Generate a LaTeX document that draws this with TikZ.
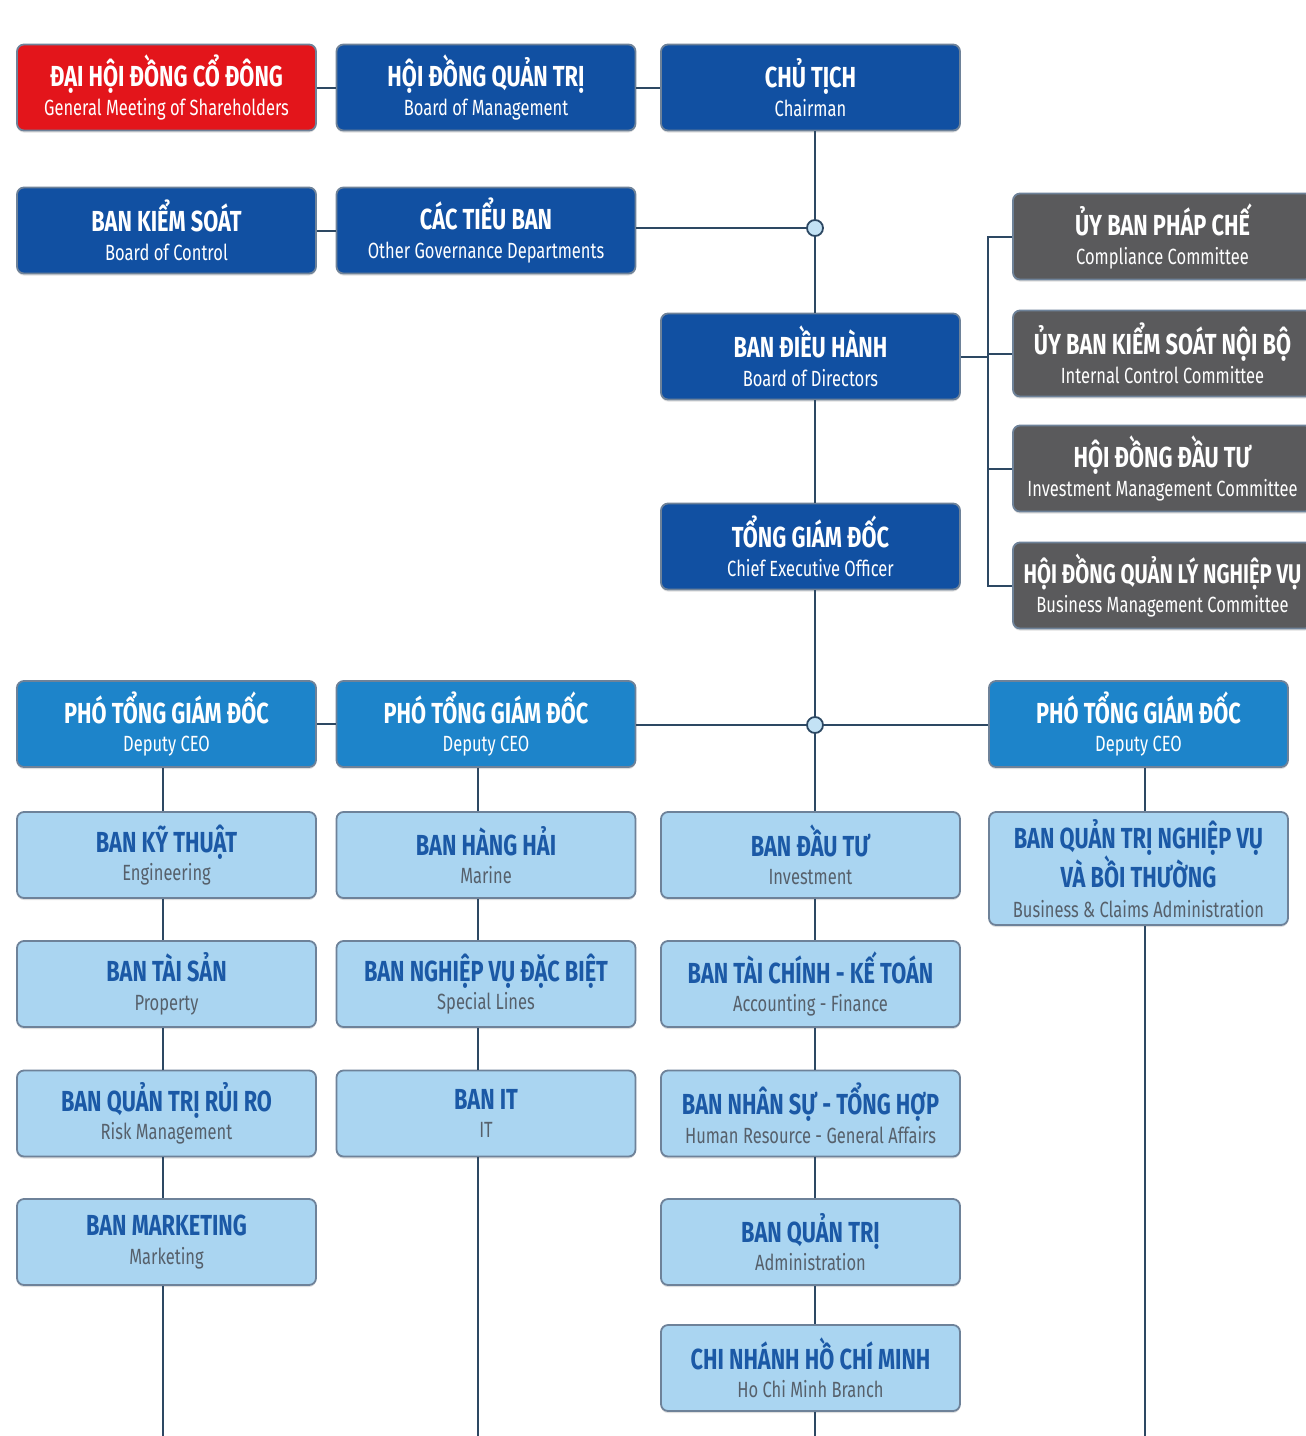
\documentclass[tikz,border=0pt]{standalone}
\usepackage{fontspec}
\setmainfont[FakeStretch=0.75]{Fira Sans}
\usetikzlibrary{shadows}
\definecolor{cred}{HTML}{E3151B}
\definecolor{cdark}{HTML}{1150A2}
\definecolor{cmid}{HTML}{1D84CA}
\definecolor{clight}{HTML}{AAD5F1}
\definecolor{cgray}{HTML}{5A5A5C}
\definecolor{cline}{HTML}{2D4863}
\definecolor{cedge}{HTML}{6E8299}
\definecolor{ctitle}{HTML}{1B59A6}
\definecolor{csub}{HTML}{56606B}
\newcommand\mytwo[2]{{\fontsize{29}{29}\selectfont\bfseries #1}\\{#2}}
\newcommand\mydept[2]{{\color{ctitle}\fontsize{29}{29}\selectfont\bfseries #1}\\{\color{csub}#2}}
\newcommand\mydeptthree[3]{{\color{ctitle}\fontsize{29}{29}\selectfont\bfseries #1}\\{\color{ctitle}\fontsize{29}{29}\selectfont\bfseries #2}\\{\color{csub}#3}}
\tikzset{
  orgbox/.style={rectangle, rounded corners=7pt, minimum width=299pt, minimum height=86pt,
    draw=cedge, line width=1.8pt, align=center, inner sep=0pt,
    font=\fontsize{22}{28.5}\selectfont,
    drop shadow={shadow xshift=0pt, shadow yshift=-2pt, opacity=0.25}},
  redbox/.style={orgbox, fill=cred, text=white},
  darkbox/.style={orgbox, fill=cdark, text=white},
  midbox/.style={orgbox, fill=cmid, text=white},
  graybox/.style={orgbox, fill=cgray, text=white},
  lightbox/.style={orgbox, fill=clight},
  tallbox/.style={lightbox, minimum height=113pt, font=\fontsize{22}{30}\selectfont},
  junction/.style={circle, draw=cline, line width=1.8pt, fill=clight!70!white, minimum size=16pt, inner sep=0pt},
  conn/.style={draw=cline, line width=2pt}
}
\begin{document}
\begin{tikzpicture}[x=1pt,y=-1pt]
\useasboundingbox[fill=white] (0,0) rectangle (1306,1436);
% top rows
\node[redbox]  (dh)  at (166.5,87.5) {\mytwo{ĐẠI HỘI ĐỒNG CỔ ĐÔNG}{General Meeting of Shareholders}};
\node[darkbox] (hd)  at (486,87.5)   {\mytwo{HỘI ĐỒNG QUẢN TRỊ}{Board of Management}};
\node[darkbox] (ct)  at (810.5,87.5) {\mytwo{CHỦ TỊCH}{Chairman}};
\node[darkbox] (bks) at (166.5,230.5){\mytwo{BAN KIỂM SOÁT}{Board of Control}};
\node[darkbox] (ctb) at (486,230.5)  {\mytwo{CÁC TIỂU BAN}{Other Governance Departments}};
\node[darkbox] (bdh) at (810.5,356.5){\mytwo{BAN ĐIỀU HÀNH}{Board of Directors}};
\node[darkbox] (tgd) at (810.5,546.5){\mytwo{TỔNG GIÁM ĐỐC}{Chief Executive Officer}};
% committees
\node[graybox] (k1) at (1162.5,236.5){\mytwo{ỦY BAN PHÁP CHẾ}{Compliance Committee}};
\node[graybox] (k2) at (1162.5,353.5){\mytwo{ỦY BAN KIỂM SOÁT NỘI BỘ}{Internal Control Committee}};
\node[graybox] (k3) at (1162.5,468.5){\mytwo{HỘI ĐỒNG ĐẦU TƯ}{Investment Management Committee}};
\node[graybox] (k4) at (1162.5,585.5){{\fontsize{27}{29}\selectfont\bfseries HỘI ĐỒNG QUẢN LÝ NGHIỆP VỤ}\\{Business Management Committee}};
% deputies
\node[midbox] (p1) at (166.5,724) {\mytwo{PHÓ TỔNG GIÁM ĐỐC}{Deputy CEO}};
\node[midbox] (p2) at (486,724)   {\mytwo{PHÓ TỔNG GIÁM ĐỐC}{Deputy CEO}};
\node[midbox] (p3) at (1138.5,724){\mytwo{PHÓ TỔNG GIÁM ĐỐC}{Deputy CEO}};
% departments
\node[lightbox] (bkt)  at (166.5,855)  {\mydept{BAN KỸ THUẬT}{Engineering}};
\node[lightbox] (bts)  at (166.5,984)  {\mydept{BAN TÀI SẢN}{Property}};
\node[lightbox] (brr)  at (166.5,1113.5){\mydept{BAN QUẢN TRỊ RỦI RO}{Risk Management}};
\node[lightbox] (bmk)  at (166.5,1242) {\mydept{BAN MARKETING}{Marketing}};
\node[lightbox] (bhh)  at (486,855)    {\mydept{BAN HÀNG HẢI}{Marine}};
\node[lightbox] (bnv)  at (486,984)    {\mydept{BAN NGHIỆP VỤ ĐẶC BIỆT}{Special Lines}};
\node[lightbox] (bit)  at (486,1113.5) {\mydept{BAN IT}{IT}};
\node[lightbox] (bdt)  at (810.5,855)  {\mydept{BAN ĐẦU TƯ}{Investment}};
\node[lightbox] (btc)  at (810.5,984)  {\mydept{BAN TÀI CHÍNH - KẾ TOÁN}{Accounting - Finance}};
\node[lightbox] (bns)  at (810.5,1113.5){\mydept{BAN NHÂN SỰ - TỔNG HỢP}{Human Resource - General Affairs}};
\node[lightbox] (bqt)  at (810.5,1242) {\mydept{BAN QUẢN TRỊ}{Administration}};
\node[lightbox] (cn)   at (810.5,1368) {\mydept{CHI NHÁNH HỒ CHÍ MINH}{Ho Chi Minh Branch}};
\node[tallbox] (bqn) at (1138.5,868.5) {\mydeptthree{BAN QUẢN TRỊ NGHIỆP VỤ}{VÀ BỒI THƯỜNG}{Business \& Claims Administration}};
% junctions and helper coordinates
\node[junction] (j1) at (815,228) {};
\node[junction] (j2) at (815,725) {};
\coordinate (br) at (988,0);
\coordinate (x1) at (163,0);
\coordinate (x2) at (478,0);
\coordinate (x4) at (1145,0);
\coordinate (e1) at (163,1436);
\coordinate (e2) at (478,1436);
\coordinate (e3) at (815,1436);
\coordinate (e4) at (1145,1436);
% connectors: top
\draw[conn] (dh.east) -- (hd.west);
\draw[conn] (hd.east) -- (ct.west);
\draw[conn] (bks.east) -- (ctb.west);
\draw[conn] (ctb.east |- j1) -- (j1.west);
\draw[conn] (ct.south -| j1) -- (j1.north);
\draw[conn] (j1.south) -- (bdh.north -| j1);
\draw[conn] (bdh.south -| j1) -- (tgd.north -| j1);
\draw[conn] (tgd.south -| j2) -- (j2.north);
\draw[conn] (j2.south) -- (bdt.north -| j2);
% committees bracket
\draw[conn] (k1.west) -- (k1.west -| br) -- (k4.west -| br) -- (k4.west);
\draw[conn] (k2.west) -- (k2.west -| br);
\draw[conn] (k3.west) -- (k3.west -| br);
\draw[conn] (bdh.east) -- (bdh.east -| br);
% deputies row
\draw[conn] (p1.east) -- (p2.west);
\draw[conn] (p2.east |- j2) -- (j2.west);
\draw[conn] (j2.east) -- (p3.west |- j2);
% column 1
\draw[conn] (p1.south -| x1) -- (bkt.north -| x1);
\draw[conn] (bkt.south -| x1) -- (bts.north -| x1);
\draw[conn] (bts.south -| x1) -- (brr.north -| x1);
\draw[conn] (brr.south -| x1) -- (bmk.north -| x1);
\draw[conn] (bmk.south -| x1) -- (e1);
% column 2
\draw[conn] (p2.south -| x2) -- (bhh.north -| x2);
\draw[conn] (bhh.south -| x2) -- (bnv.north -| x2);
\draw[conn] (bnv.south -| x2) -- (bit.north -| x2);
\draw[conn] (bit.south -| x2) -- (e2);
% column 3
\draw[conn] (bdt.south -| j2) -- (btc.north -| j2);
\draw[conn] (btc.south -| j2) -- (bns.north -| j2);
\draw[conn] (bns.south -| j2) -- (bqt.north -| j2);
\draw[conn] (bqt.south -| j2) -- (cn.north -| j2);
\draw[conn] (cn.south -| j2) -- (e3);
% column 4
\draw[conn] (p3.south -| x4) -- (bqn.north -| x4);
\draw[conn] (bqn.south -| x4) -- (e4);
\end{tikzpicture}
\end{document}
